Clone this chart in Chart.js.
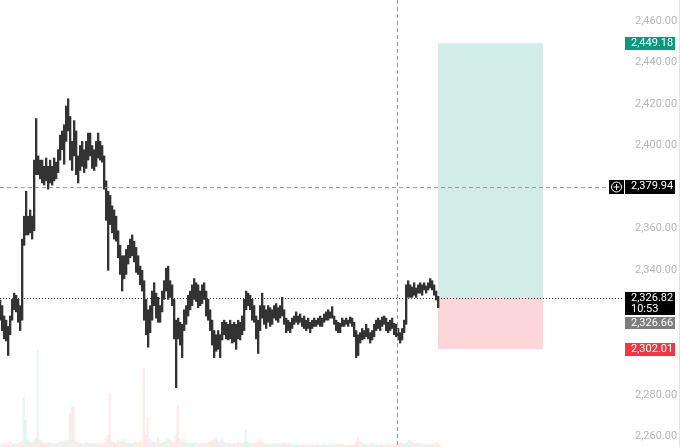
<!DOCTYPE html>
<html>
<head>
<meta charset="utf-8">
<script src="https://cdn.jsdelivr.net/npm/chart.js@4.4.1/dist/chart.umd.min.js"></script>
<style>
  html, body { margin: 0; padding: 0; background: #fff; }
  #wrap { width: 680px; height: 447px; position: relative; }
</style>
</head>
<body>
<div id="wrap"><canvas id="chart"></canvas></div>
<script>
// candle highs / lows, one per bar (oldest first)
const highs = [
  2325.7, 2323, 2318, 2316, 2313, 2318, 2326, 2329, 2328, 2326,
  2323, 2355, 2366, 2378, 2366, 2369, 2366, 2393, 2413, 2395,
  2393, 2393, 2390, 2394, 2390, 2393, 2390, 2394, 2392, 2398,
  2405, 2407, 2410, 2419, 2422.5, 2414, 2402, 2412, 2407, 2395,
  2400, 2402, 2398, 2402, 2406, 2406, 2400, 2398, 2402, 2406,
  2402, 2400, 2395, 2383, 2378, 2376, 2371, 2369, 2366, 2359,
  2352, 2347, 2347, 2350, 2352, 2355, 2357, 2354, 2351, 2347,
  2342, 2340, 2335, 2326, 2321, 2323, 2330, 2334, 2329, 2327,
  2323, 2330, 2335, 2341, 2342, 2335, 2333, 2326, 2316, 2317,
  2315, 2314, 2321, 2323, 2328, 2330, 2333, 2336, 2334, 2333,
  2330, 2333, 2334, 2330, 2326, 2321, 2316, 2311, 2309, 2311,
  2309, 2315, 2316, 2315, 2314, 2316, 2314, 2315, 2314, 2316,
  2315, 2318, 2326, 2330, 2329, 2328, 2326, 2323, 2318, 2316,
  2323, 2329, 2323, 2321, 2323, 2322, 2321, 2323, 2324, 2322,
  2323, 2327, 2321, 2317, 2316, 2315, 2317, 2318, 2320, 2318,
  2319, 2317, 2318, 2316, 2317, 2315, 2316, 2317, 2316, 2317,
  2318, 2317, 2319, 2320, 2321, 2320, 2322.5, 2318, 2316, 2315,
  2314.5, 2317, 2316, 2317, 2316, 2317.5, 2317, 2315, 2311, 2309,
  2310, 2312, 2311, 2314, 2312, 2310, 2311, 2314, 2316, 2317,
  2316, 2317.5, 2318, 2317, 2315, 2316, 2317, 2314.5, 2314, 2312,
  2310, 2312, 2316, 2333, 2335, 2333, 2332, 2334, 2331.5, 2333,
  2334, 2333, 2334, 2332.5, 2334, 2336, 2335, 2333, 2330, 2327.5
];
const lows = [
  2316, 2311, 2307, 2306, 2299, 2309, 2316, 2321, 2320, 2315,
  2311, 2316, 2352, 2357, 2357, 2358, 2355, 2359, 2386, 2386,
  2384, 2382, 2381, 2383, 2379, 2382, 2381, 2383, 2384, 2387,
  2393, 2398, 2391, 2402, 2407, 2393, 2388, 2395, 2386, 2382,
  2388, 2390, 2387, 2389, 2393, 2395, 2389, 2388, 2390, 2394,
  2393, 2392, 2379, 2364, 2340, 2362, 2358, 2355, 2354, 2346,
  2338, 2330, 2336, 2338, 2343, 2346, 2347, 2344, 2339, 2338,
  2333, 2330, 2316, 2309, 2303, 2310, 2316, 2323, 2317, 2315,
  2315, 2320, 2326, 2330, 2326, 2327, 2323, 2307, 2283.5, 2307,
  2304, 2298, 2311, 2314, 2318, 2321, 2323, 2326, 2325, 2322,
  2323, 2324, 2326, 2318, 2316, 2311, 2304, 2298, 2301, 2302,
  2298, 2306.5, 2309, 2307, 2306.5, 2307, 2305, 2305.5, 2302, 2307,
  2306.5, 2309, 2311, 2321, 2323, 2321, 2316, 2315, 2307, 2300,
  2311, 2317, 2314, 2312, 2315, 2313, 2314, 2317, 2316, 2315,
  2317, 2318, 2314, 2310, 2311, 2310, 2312, 2314, 2315, 2314,
  2315, 2313, 2312, 2311, 2312, 2310, 2312, 2313, 2313, 2314,
  2313, 2313, 2315, 2316, 2316, 2317, 2317, 2314, 2311, 2310,
  2310, 2313, 2313, 2314, 2313, 2314.5, 2313, 2308, 2298, 2299,
  2305, 2306.5, 2307, 2308, 2307, 2305, 2306.5, 2308, 2311, 2312,
  2311, 2313, 2314, 2311, 2310, 2311, 2312, 2309, 2308, 2306.5,
  2305, 2306.5, 2310, 2314, 2327, 2327, 2327, 2328, 2327, 2329,
  2329, 2328, 2330.5, 2329, 2330.5, 2331.5, 2330.5, 2328, 2325.7, 2322
];
const volumes = [
  4, 3, 5, 3, 6, 4, 3, 4, 3, 5,
  6, 50, 27, 8, 5, 4, 6, 9, 97, 7,
  5, 4, 3, 5, 4, 3, 4, 3, 4, 5,
  6, 5, 7, 6, 34, 40, 40, 6, 5, 4,
  4, 3, 5, 4, 3, 4, 3, 4, 3, 4,
  3, 4, 8, 12, 54, 6, 5, 4, 7, 5,
  6, 8, 5, 4, 4, 3, 4, 5, 4, 6,
  5, 79, 12, 30, 8, 6, 5, 4, 10, 4,
  4, 5, 6, 8, 7, 5, 4, 12, 42, 8,
  6, 9, 5, 4, 4, 5, 4, 5, 4, 3,
  4, 3, 4, 4, 5, 6, 7, 9, 6, 5,
  8, 5, 4, 3, 4, 3, 4, 3, 5, 4,
  4, 5, 17, 6, 4, 3, 4, 3, 5, 8,
  5, 4, 3, 4, 3, 3, 4, 3, 4, 3,
  3, 4, 4, 3, 3, 2, 3, 2, 3, 2,
  2, 3, 2, 3, 2, 3, 2, 2, 3, 2,
  2, 3, 2, 2, 3, 2, 3, 2, 3, 3,
  3, 2, 2, 2, 3, 2, 2, 5, 10, 6,
  4, 3, 3, 2, 3, 4, 3, 3, 2, 2,
  3, 2, 2, 3, 3, 2, 3, 3, 3, 4,
  4, 3, 4, 6, 7, 5, 4, 3, 4, 3,
  3, 3, 2, 3, 2, 3, 3, 4, 4, 3
];

// price levels on the right axis
const lastPrice = 2326.82;
const countdown = "10:53";
const entryPrice = 2326.66;
const targetPrice = 2449.18;
const stopPrice = 2302.01;
const crosshairPrice = 2379.94;
const crosshairBar = 198;
// long position tool spans these bar indexes
const positionFrom = 218.5;
const positionTo = 271;
const hiddenTicks = [2300, 2320, 2380];

const fmt = v => v.toLocaleString("en-US", { minimumFractionDigits: 2, maximumFractionDigits: 2 });

const candleData = highs.map((h, i) => ({ x: i, y: [lows[i], h] }));
const volumeData = volumes.map((v, i) => ({ x: i, y: v }));
const volumeColors = highs.map((h, i) => {
  const mid = (h + lows[i]) / 2;
  const prev = i > 0 ? (highs[i - 1] + lows[i - 1]) / 2 : mid;
  return mid >= prev ? "rgba(8, 153, 129, 0.1)" : "rgba(242, 54, 69, 0.1)";
});

function labelBox(ctx, x, y, h, bg, lines) {
  ctx.fillStyle = bg;
  ctx.fillRect(x, y, 50, h);
  ctx.fillStyle = "#fff";
  ctx.textAlign = "left";
  ctx.textBaseline = "middle";
  lines.forEach((t, k) => ctx.fillText(t, x + 6, y + 6.5 + k * 11));
}

const overlay = {
  id: "overlay",
  beforeDatasetsDraw(chart) {
    const { ctx, scales: { x, y } } = chart;
    const l = x.getPixelForValue(positionFrom);
    const r = x.getPixelForValue(positionTo);
    const yt = y.getPixelForValue(targetPrice);
    const ye = y.getPixelForValue(entryPrice);
    const ys = y.getPixelForValue(stopPrice);
    ctx.save();
    ctx.fillStyle = "rgba(8, 153, 129, 0.18)";
    ctx.fillRect(l, yt, r - l, ye - yt);
    ctx.fillStyle = "rgba(242, 54, 69, 0.2)";
    ctx.fillRect(l, ye, r - l, ys - ye);
    ctx.restore();
  },
  afterDatasetsDraw(chart) {
    const { ctx, chartArea: a, scales: { x, y } } = chart;
    ctx.save();
    // crosshair
    ctx.strokeStyle = "#9a9a9a";
    ctx.lineWidth = 1;
    ctx.setLineDash([4, 3]);
    const cy = Math.round(y.getPixelForValue(crosshairPrice)) + 0.5;
    ctx.beginPath();
    ctx.moveTo(a.left, cy);
    ctx.lineTo(a.right - 16, cy);
    ctx.stroke();
    const cx = Math.round(x.getPixelForValue(crosshairBar)) + 0.5;
    ctx.beginPath();
    ctx.moveTo(cx, a.top);
    ctx.lineTo(cx, a.bottom);
    ctx.stroke();
    // last price line
    ctx.strokeStyle = "#333";
    ctx.setLineDash([1, 2]);
    const ly = Math.round(y.getPixelForValue(lastPrice)) + 0.5;
    ctx.beginPath();
    ctx.moveTo(a.left, ly);
    ctx.lineTo(a.right, ly);
    ctx.stroke();
    ctx.restore();
  },
  afterDraw(chart) {
    const { ctx, chartArea: a, scales: { y } } = chart;
    const bx = a.right + 1;
    ctx.save();
    ctx.font = "11px Roboto, sans-serif";
    labelBox(ctx, bx, Math.round(y.getPixelForValue(targetPrice)) - 6, 13, "#089981", [fmt(targetPrice)]);
    const cy = Math.round(y.getPixelForValue(crosshairPrice));
    labelBox(ctx, bx, cy - 7, 14, "#000", [fmt(crosshairPrice)]);
    const ly = Math.round(y.getPixelForValue(lastPrice));
    labelBox(ctx, bx, ly - 6, 23, "#000", [fmt(lastPrice), countdown]);
    labelBox(ctx, bx, ly + 19, 12, "#7d7d7d", [fmt(entryPrice)]);
    labelBox(ctx, bx, Math.round(y.getPixelForValue(stopPrice)) - 6, 13, "#f23645", [fmt(stopPrice)]);
    // plus button next to the crosshair label
    ctx.fillStyle = "#000";
    ctx.fillRect(a.right - 15, cy - 7, 15, 14);
    ctx.strokeStyle = "#fff";
    ctx.lineWidth = 1;
    ctx.beginPath();
    ctx.arc(a.right - 7.5, cy, 5, 0, Math.PI * 2);
    ctx.moveTo(a.right - 10.5, cy);
    ctx.lineTo(a.right - 4.5, cy);
    ctx.moveTo(a.right - 7.5, cy - 3);
    ctx.lineTo(a.right - 7.5, cy + 3);
    ctx.stroke();
    // right edge border
    ctx.strokeStyle = "#e3e3e3";
    ctx.beginPath();
    ctx.moveTo(679.5, 0);
    ctx.lineTo(679.5, chart.height);
    ctx.stroke();
    ctx.restore();
  }
};

new Chart(document.getElementById("chart"), {
  type: "bar",
  data: {
    datasets: [
      {
        label: "Price",
        data: candleData,
        backgroundColor: "#333333",
        barThickness: 1.7,
        yAxisID: "y",
        order: 1,
      },
      {
        label: "Volume",
        data: volumeData,
        backgroundColor: volumeColors,
        barThickness: 1.5,
        yAxisID: "vol",
        order: 2,
      },
    ],
  },
  options: {
    responsive: true,
    maintainAspectRatio: false,
    animation: false,
    layout: { padding: 0 },
    plugins: { legend: { display: false }, tooltip: { enabled: false } },
    scales: {
      x: {
        type: "linear",
        min: -0.5,
        max: 311.5,
        offset: false,
        display: false,
      },
      y: {
        position: "right",
        min: 2255,
        max: 2470,
        grid: { display: false },
        border: { display: false },
        afterFit: s => {
          s.width = 56;
          s.paddingTop = 0;
          s.paddingBottom = 0;
        },
        afterBuildTicks: s => { s.ticks = s.ticks.filter(t => t.value % 20 === 0); },
        ticks: {
          stepSize: 20,
          includeBounds: false,
          padding: 3,
          color: "#b5b5b5",
          font: { family: "Roboto, sans-serif", size: 11 },
          callback: v => hiddenTicks.includes(v) ? "" : fmt(v),
        },
      },
      vol: {
        display: false,
        min: 0,
        max: 450,
      },
    },
  },
  plugins: [overlay],
});
</script>
</body>
</html>
